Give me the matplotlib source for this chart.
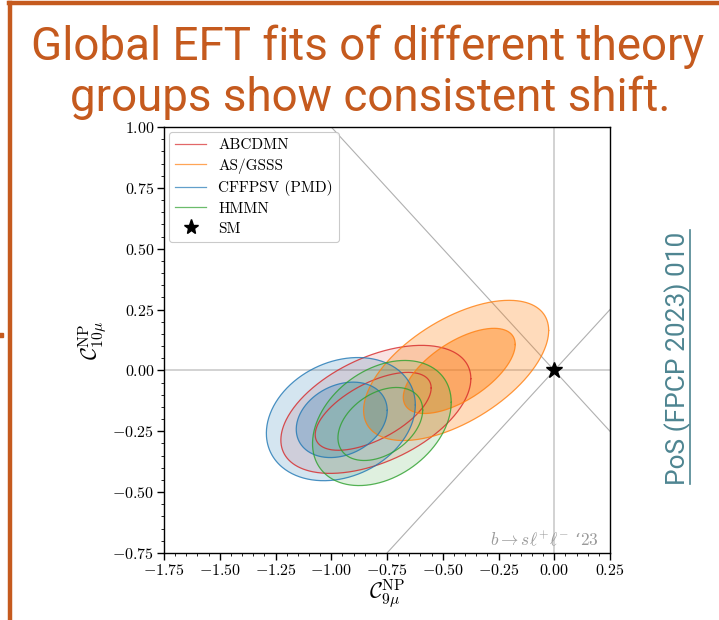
import numpy as np
import matplotlib
matplotlib.use("Agg")
import matplotlib.pyplot as plt
from matplotlib.lines import Line2D
from matplotlib.ticker import MultipleLocator, FuncFormatter

plt.rcParams["mathtext.fontset"] = "cm"

# Fit groups and their 1-sigma / 2-sigma regions in the (C9, C10) plane
groups = ["ABCDMN", "AS/GSSS", "CFFPSV (PMD)", "HMMN"]
colors = ["#d62728", "#ff7f0e", "#1f77b4", "#2ca02c"]

# 2-sigma (outer) regions: centre, half-extent in x and y, correlation
outer_cx = [-0.80, -0.44, -0.957, -0.773]
outer_cy = [-0.16, 0.0, -0.20, -0.216]
outer_wx = [0.426, 0.415, 0.334, 0.311]
outer_wy = [0.263, 0.288, 0.253, 0.257]
outer_rho = [0.48, 0.57, 0.23, 0.33]

# 1-sigma (inner) regions
inner_cx = [-0.812, -0.426, -0.953, -0.78]
inner_cy = [-0.168, -0.002, -0.203, -0.22]
inner_wx = [0.26, 0.251, 0.204, 0.19]
inner_wy = [0.16, 0.175, 0.155, 0.15]
inner_rho = [0.60, 0.62, 0.25, 0.38]

outer_alpha = [0.13, 0.28, 0.19, 0.15]
inner_alpha = [0.00, 0.42, 0.26, 0.00]

sm_point = (0.0, 0.0)
xlim = (-1.75, 0.25)
ylim = (-0.75, 1.00)

title_lines = ["Global EFT fits of different theory", "groups show consistent shift."]
side_note = "PoS (FPCP 2023) 010"

accent = "#C55A1E"
teal = "#4E8591"


def ellipse(cx, cy, wx, wy, rho, n=400):
    t = np.linspace(0, 2 * np.pi, n)
    d = np.arccos(rho)
    return cx + wx * np.cos(t), cy + wy * np.cos(t - d)


fig = plt.figure(figsize=(7.19, 6.2), dpi=100)
W, H = 719, 620
ax = fig.add_axes([164 / W, (H - 553) / H, 446 / W, 426 / H])

# reference lines
ax.axhline(0, color="#cfcfcf", lw=1.3, zorder=0)
ax.axvline(0, color="#cfcfcf", lw=1.3, zorder=0)
xs = np.array(xlim)
ax.plot(xs, xs, color="#b0b0b0", lw=0.8, zorder=0)
ax.plot(xs, -xs, color="#b0b0b0", lw=0.8, zorder=0)

# filled regions first, outlines on top
for i in range(len(groups)):
    ox, oy = ellipse(outer_cx[i], outer_cy[i], outer_wx[i], outer_wy[i], outer_rho[i])
    ax.fill(ox, oy, color=colors[i], alpha=outer_alpha[i], lw=0, zorder=1)
    if inner_alpha[i] > 0:
        ix, iy = ellipse(inner_cx[i], inner_cy[i], inner_wx[i], inner_wy[i], inner_rho[i])
        ax.fill(ix, iy, color=colors[i], alpha=inner_alpha[i], lw=0, zorder=1)

for i in range(len(groups)):
    ox, oy = ellipse(outer_cx[i], outer_cy[i], outer_wx[i], outer_wy[i], outer_rho[i])
    ix, iy = ellipse(inner_cx[i], inner_cy[i], inner_wx[i], inner_wy[i], inner_rho[i])
    ax.plot(ox, oy, color=colors[i], lw=0.9, alpha=0.8, zorder=2)
    ax.plot(ix, iy, color=colors[i], lw=0.9, alpha=0.8, zorder=2)

ax.plot(*sm_point, marker="*", color="black", ms=12, ls="none", zorder=5)

ax.set_xlim(*xlim)
ax.set_ylim(*ylim)
ax.xaxis.set_major_locator(MultipleLocator(0.25))
ax.yaxis.set_major_locator(MultipleLocator(0.25))
ax.xaxis.set_minor_locator(MultipleLocator(0.05))
ax.yaxis.set_minor_locator(MultipleLocator(0.05))
fmt = FuncFormatter(lambda v, p: f"${v:.2f}$")
ax.xaxis.set_major_formatter(fmt)
ax.yaxis.set_major_formatter(fmt)
ax.tick_params(which="major", direction="out", length=5, width=1, labelsize=11.5, pad=2)
ax.tick_params(which="minor", direction="out", length=2.5, width=0.6)
for s in ax.spines.values():
    s.set_linewidth(1.0)

ax.set_xlabel(r"$\mathcal{C}_{9\mu}^{\rm NP}$", fontsize=16, labelpad=0)
ax.set_ylabel(r"$\mathcal{C}_{10\mu}^{\rm NP}$", fontsize=16, labelpad=2)

ax.text(0.2, -0.72, r"$b\to s\ell^{+}\ell^{-}$ ‘$23$", color="#9a9a9a",
        fontsize=12.5, ha="right", va="baseline", family="DejaVu Serif")

handles = [Line2D([], [], color=c, lw=0.9, alpha=0.7) for c in colors]
handles.append(Line2D([], [], color="black", marker="*", ms=11, ls="none"))
labels = groups + ["SM"]
leg = ax.legend(handles, labels, loc="upper left", prop={"family": "cmr10", "size": 11},
                frameon=True, fancybox=True, edgecolor="#bdbdbd", borderpad=0.4,
                labelspacing=0.4, handlelength=2.0, handletextpad=0.8, borderaxespad=0.35)
leg.get_frame().set_linewidth(0.8)

# slide frame
fig.add_artist(Line2D([9 / W, 1.0], [1 - 3 / H, 1 - 3 / H], color=accent, lw=3.2))
fig.add_artist(Line2D([10 / W, 10 / W], [0, 1 - 3 / H], color=accent, lw=3.2))
fig.add_artist(Line2D([1 / W], [1 - 335 / H], color=accent, marker="s", ms=2.2, ls="none"))

# slide title, scaled so the first line spans the frame width
fam = ["Roboto", "DejaVu Sans"]
t1 = fig.text(368 / W, 1 - 60 / H, title_lines[0], ha="center", va="baseline",
              color=accent, fontsize=30, family=fam)
t2 = fig.text(370 / W, 1 - 111 / H, title_lines[1], ha="center", va="baseline",
              color=accent, fontsize=30, family=fam)
r = fig.canvas.get_renderer()
w = t1.get_window_extent(r).width
fs = 30 * 673 / w
t1.set_fontsize(fs)
t2.set_fontsize(fs)

# side citation with underline
sn = fig.text(678 / W, 1 - 358 / H, side_note, rotation=90, ha="center", va="center",
              color=teal, fontsize=16, family=["Roboto", "DejaVu Sans"])
h = sn.get_window_extent(r).height
sn.set_fontsize(16 * 253 / h)
fig.add_artist(Line2D([690 / W, 690 / W], [1 - 484 / H, 1 - 230 / H], color=teal, lw=1.2))

fig.savefig("out.png", dpi=100)
